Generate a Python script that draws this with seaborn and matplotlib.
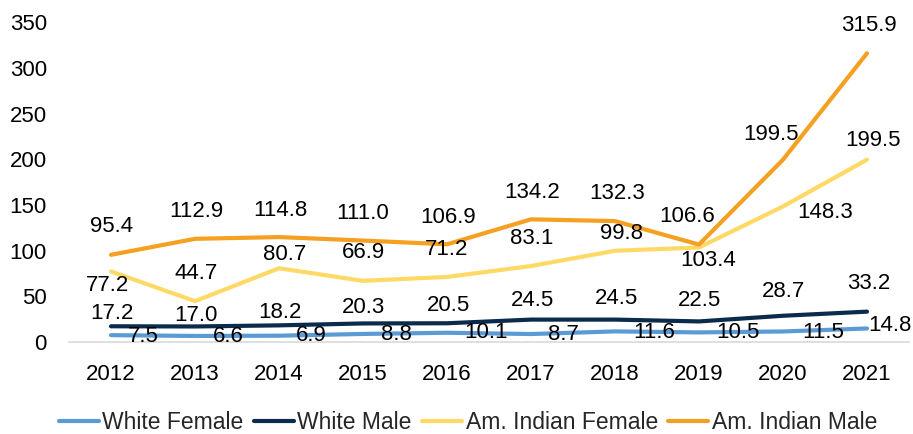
import pandas as pd
import matplotlib.pyplot as plt
import seaborn as sns

# -----------------------------
# Data
# -----------------------------
years = [2012, 2013, 2014, 2015, 2016, 2017, 2018, 2019, 2020, 2021]
white_female = [7.5, 6.6, 6.9, 8.8, 10.1, 8.7, 11.6, 10.5, 11.5, 14.8]
white_male = [17.2, 17.0, 18.2, 20.3, 20.5, 24.5, 24.5, 22.5, 28.7, 33.2]
am_indian_female = [77.2, 44.7, 80.7, 66.9, 71.2, 83.1, 99.8, 103.4, 148.3, 199.5]
am_indian_male = [95.4, 112.9, 114.8, 111.0, 106.9, 134.2, 132.3, 106.6, 199.5, 315.9]

series_names = ["White Female", "White Male", "Am. Indian Female", "Am. Indian Male"]
series_values = [white_female, white_male, am_indian_female, am_indian_male]
colors = ["#5B9BD5", "#0B2B4C", "#FFD966", "#F5A021"]

# label offsets in pixels (dx, dy) for each series
label_offsets = [
    [(32, -1), (33, -1), (32, 0), (33, -1), (39, 0), (32, 0), (39, -1), (39, 0), (40, -1), (23, 3)],
    [(1, 13), (1, 11), (1, 13), (0, 16), (1, 18), (1, 19), (2, 21), (1, 21), (1, 24), (2, 28)],
    [(-4, -14), (1, 28), (6, 14), (0, 28), (0, 27), (1, 28), (7, 17), (9, -13), (42, -6), (6, 19)],
    [(1, 28), (1, 27), (1, 27), (0, 27), (1, 27), (1, 27), (2, 28), (-12, 28), (-12, 25), (2, 28)],
]

rows = []
for name, vals in zip(series_names, series_values):
    for i, v in enumerate(vals):
        rows.append({"pos": i, "year": years[i], "value": v, "series": name})
df = pd.DataFrame(rows)

# -----------------------------
# Plot
# -----------------------------
sns.set_style("white")
plt.rcParams["font.family"] = ["Liberation Sans", "DejaVu Sans"]

fig = plt.figure(figsize=(9.13, 4.34), dpi=100)
ax = fig.add_axes([0.0756, 0.212, 0.92, 0.737])

sns.lineplot(data=df, x="pos", y="value", hue="series", hue_order=series_names,
             palette=colors, linewidth=3, ax=ax, legend=False)

for name, vals, offs in zip(series_names, series_values, label_offsets):
    for i, v in enumerate(vals):
        ax.annotate(f"{v:.1f}", (i, v), xytext=offs[i], textcoords="offset pixels",
                    ha="center", va="center", fontsize=16, color="#000000",
                    annotation_clip=False)

ax.set_xlim(-0.5, 9.5)
ax.set_ylim(0, 350)
ax.set_xticks(range(len(years)))
ax.set_xticklabels([str(y) for y in years])
ax.set_yticks(range(0, 351, 50))
ax.tick_params(axis="both", length=0, labelsize=16, pad=16, colors="#000000")
ax.set_xlabel("")
ax.set_ylabel("")

for side in ["top", "right", "left"]:
    ax.spines[side].set_visible(False)
ax.spines["bottom"].set_color("#D9D9D9")
ax.spines["bottom"].set_linewidth(1.2)

handles = [plt.Line2D([], [], color=c, linewidth=3) for c in colors]
fig.legend(handles, series_names, loc="center", bbox_to_anchor=(0.5126, 0.0276),
           ncol=4, frameon=False, fontsize=16.5, handlelength=1.75,
           handletextpad=0.15, columnspacing=0.45)

fig.savefig("out.png", dpi=100)
